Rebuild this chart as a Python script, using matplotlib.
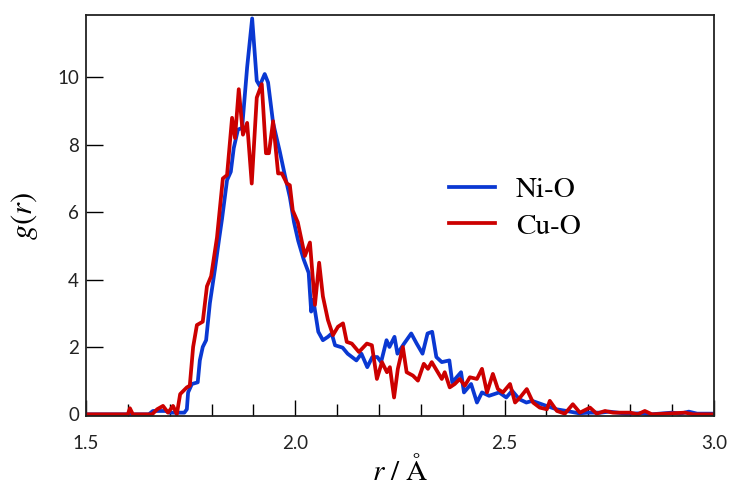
import matplotlib
matplotlib.use("Agg")
import matplotlib.pyplot as plt
from matplotlib.ticker import MultipleLocator, FormatStrFormatter

# Ni-O partial g(r)
r_nio = [1.50, 1.65, 1.66, 1.69, 1.70, 1.72, 1.735, 1.741, 1.744, 1.753, 1.767, 1.772,
         1.779, 1.787, 1.796, 1.808, 1.818, 1.825, 1.837, 1.846, 1.853, 1.863, 1.873, 1.885,
         1.897, 1.908, 1.915, 1.927, 1.935, 1.947, 1.963, 1.975, 1.987, 1.997, 2.007,
         2.02, 2.032, 2.038, 2.043, 2.055, 2.066, 2.078, 2.087, 2.095, 2.113, 2.125,
         2.146, 2.158, 2.172, 2.184, 2.196, 2.205, 2.218, 2.225, 2.237, 2.244, 2.26,
         2.277, 2.29, 2.304, 2.316, 2.327, 2.337, 2.35, 2.368, 2.375, 2.396, 2.403,
         2.42, 2.434, 2.446, 2.463, 2.487, 2.504, 2.518, 2.535, 2.552, 2.566, 2.60,
         2.624, 2.648, 2.678, 2.70, 2.73, 2.75, 2.79, 2.83, 2.85, 2.90, 2.92, 2.94,
         2.96, 3.00]
g_nio = [0.0, 0.0, 0.1, 0.1, 0.05, 0.05, 0.05, 0.15, 0.65, 0.9, 0.95, 1.6,
         2.0, 2.2, 3.3, 4.3, 5.2, 5.8, 6.95, 7.2, 7.9, 8.45, 8.5, 10.3,
         11.75, 9.9, 9.75, 10.1, 9.85, 8.65, 7.8, 7.1, 6.45, 5.7, 5.15,
         4.6, 4.2, 3.05, 3.4, 2.45, 2.2, 2.3, 2.4, 2.05, 1.98, 1.8,
         1.6, 1.8, 1.4, 1.7, 1.7, 1.55, 2.2, 2.0, 2.3, 1.8, 2.1,
         2.4, 2.1, 1.8, 2.4, 2.45, 1.7, 1.55, 1.6, 0.95, 1.25, 0.65,
         0.9, 0.35, 0.65, 0.55, 0.65, 0.5, 0.7, 0.45, 0.35, 0.4, 0.25,
         0.15, 0.1, 0.03, 0.05, 0.05, 0.08, 0.02, 0.03, 0.0, 0.05, 0.02, 0.08,
         0.02, 0.02]

# Cu-O partial g(r)
r_cuo = [1.50, 1.600, 1.605, 1.612, 1.658, 1.670, 1.684, 1.696, 1.708, 1.717, 1.725,
         1.741, 1.748, 1.756, 1.765, 1.779, 1.789, 1.799, 1.813, 1.827, 1.837, 1.849,
         1.856, 1.865, 1.875, 1.885, 1.896, 1.908, 1.920, 1.930, 1.937, 1.947, 1.959,
         1.968, 1.980, 1.987, 1.994, 2.006, 2.023, 2.035, 2.047, 2.057, 2.066, 2.078,
         2.090, 2.102, 2.114, 2.123, 2.135, 2.152, 2.171, 2.183, 2.195, 2.207, 2.219,
         2.226, 2.236, 2.245, 2.257, 2.266, 2.281, 2.293, 2.307, 2.317, 2.326, 2.338,
         2.350, 2.357, 2.369, 2.381, 2.393, 2.405, 2.417, 2.434, 2.446, 2.458, 2.472,
         2.484, 2.496, 2.513, 2.525, 2.537, 2.553, 2.568, 2.584, 2.601, 2.608, 2.625,
         2.644, 2.663, 2.680, 2.704, 2.720, 2.740, 2.759, 2.800, 2.818, 2.835, 2.852,
         2.931, 2.95, 3.00]
g_cuo = [0.0, 0.0, 0.18, 0.0, 0.0, 0.15, 0.25, 0.05, 0.25, 0.0, 0.6,
         0.8, 0.85, 2.0, 2.65, 2.75, 3.8, 4.1, 5.25, 7.0, 7.1, 8.8,
         8.2, 9.65, 8.3, 8.65, 6.85, 9.4, 9.8, 7.75, 7.75, 8.7, 7.15,
         7.15, 6.85, 6.8, 6.05, 5.7, 4.7, 5.1, 3.25, 4.5, 3.5, 2.8,
         2.35, 2.6, 2.7, 2.15, 2.1, 1.85, 2.1, 2.05, 1.05, 1.55, 1.25,
         1.4, 0.5, 1.35, 2.0, 1.25, 1.15, 1.0, 1.5, 1.35, 1.55, 1.3,
         1.05, 1.25, 0.8, 0.9, 1.05, 0.85, 1.1, 1.05, 1.35, 0.65, 1.2,
         0.75, 0.65, 0.9, 0.35, 0.5, 0.75, 0.35, 0.2, 0.15, 0.4, 0.1,
         0.02, 0.3, 0.05, 0.2, 0.02, 0.1, 0.05, 0.05, 0.0, 0.1, 0.0,
         0.05, 0.0, 0.0]

labels = ["Ni-O", "Cu-O"]
colors = ["#0a38d2", "#cc0000"]

plt.rcParams['mathtext.fontset'] = 'stix'

fig = plt.figure(figsize=(7.31, 4.86), dpi=100)
ax = fig.add_axes([0.1176, 0.144, 0.859, 0.825])

ax.plot(r_nio, g_nio, color=colors[0], lw=2.7, label=labels[0], solid_joinstyle='round')
ax.plot(r_cuo, g_cuo, color=colors[1], lw=2.7, label=labels[1], solid_joinstyle='round')

ax.set_xlim(1.5, 3.0)
ax.set_ylim(-0.05, 11.85)

ax.xaxis.set_major_locator(MultipleLocator(0.5))
ax.xaxis.set_minor_locator(MultipleLocator(0.1))
ax.yaxis.set_major_locator(MultipleLocator(2))
ax.xaxis.set_major_formatter(FormatStrFormatter('%.1f'))

ax.tick_params(axis='x', which='major', direction='in', length=11.5, width=1.0,
               pad=14, labelsize=13.5, top=False)
ax.tick_params(axis='x', which='minor', direction='in', length=8.5, width=1.0, top=False)
ax.tick_params(axis='y', which='major', direction='in', length=12, width=1.0,
               pad=5, labelsize=13.5, right=False)
for lab in ax.get_xticklabels() + ax.get_yticklabels():
    lab.set_family('Lato')
    lab.set_color('#222222')

for s in ax.spines.values():
    s.set_linewidth(1.3)
    s.set_color('#222222')

ax.set_ylabel(r'$g(r)$', fontsize=22, family='STIXGeneral', labelpad=12)
ax.set_xlabel(r'$r$ / Å', fontsize=21, family='STIXGeneral', labelpad=2)

leg = ax.legend(loc='upper left', bbox_to_anchor=(0.545, 0.648), frameon=False,
                prop={'family': 'STIXGeneral', 'size': 21}, handlelength=1.6,
                handletextpad=0.7, labelspacing=0.35, borderpad=0.2)

fig.savefig('out.png', dpi=100)
